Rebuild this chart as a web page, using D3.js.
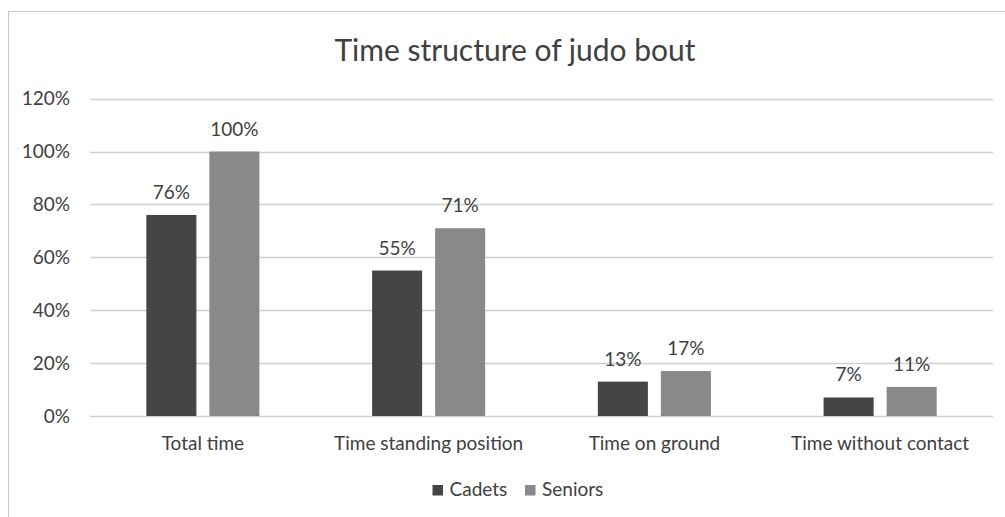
<!DOCTYPE html>
<html>
<head>
<meta charset="utf-8">
<script src="https://cdn.jsdelivr.net/npm/d3@7"></script>
<style>
  html, body { margin: 0; padding: 0; background: #fff; }
  svg { display: block; }
  text { font-family: Lato, "Open Sans", sans-serif; fill: #404040; }
</style>
</head>
<body>
<svg id="chart" width="1005" height="517"></svg>
<script>
const categories = ["Total time", "Time standing position", "Time on ground", "Time without contact"];
const seriesNames = ["Cadets", "Seniors"];
const cadets = [0.76, 0.55, 0.13, 0.07];
const seniors = [1.00, 0.71, 0.17, 0.11];
const yTicks = [0, 0.2, 0.4, 0.6, 0.8, 1.0, 1.2];
const colors = ["#454545", "#898989"];

const svg = d3.select("#chart");
const W = 1005, H = 517;
const FONT = "19px";

// chart frame
svg.append("rect")
  .attr("x", 8.5).attr("y", 11.5)
  .attr("width", W + 10).attr("height", H + 10)
  .attr("fill", "#fff").attr("stroke", "#c8c8c8").attr("stroke-width", 1);

const plot = { left: 90, right: 993, top: 98.6, bottom: 416 };

const x = d3.scaleBand().domain(categories).range([plot.left, plot.right]).paddingInner(0).paddingOuter(0);
const x1 = d3.scaleBand().domain(seriesNames).range([0, x.bandwidth()]).paddingInner(0.206).paddingOuter(0.894);
const y = d3.scaleLinear().domain([0, 1.2]).range([plot.bottom, plot.top]);

// title
svg.append("text")
  .attr("x", 515).attr("y", 61)
  .attr("text-anchor", "middle")
  .style("font-size", "30px")
  .text("Time structure of judo bout");

// gridlines
svg.append("g").selectAll("line").data(yTicks).join("line")
  .attr("x1", plot.left).attr("x2", plot.right)
  .attr("y1", d => Math.round(y(d)) + 0.5).attr("y2", d => Math.round(y(d)) + 0.5)
  .attr("stroke", "#d0d0d0").attr("stroke-width", 1.3);

// y axis labels
const yAxis = d3.axisLeft(y).tickValues(yTicks).tickFormat(d3.format(".0%")).tickSize(0).tickPadding(20);
const gy = svg.append("g").attr("transform", `translate(${plot.left},0)`).call(yAxis);
gy.select(".domain").remove();
gy.selectAll("text").style("font-size", FONT).style("font-family", "Lato, sans-serif").attr("fill", "#404040");

// x axis labels
const xAxis = d3.axisBottom(x).tickSize(0).tickPadding(21);
const gx = svg.append("g").attr("transform", `translate(0,${plot.bottom})`).call(xAxis);
gx.select(".domain").remove();
gx.selectAll("text").style("font-size", FONT).style("font-family", "Lato, sans-serif").attr("fill", "#404040");

// bars
const rows = categories.map((c, i) => ({ cat: c, vals: [cadets[i], seniors[i]] }));
const groups = svg.append("g").selectAll("g").data(rows).join("g")
  .attr("transform", d => `translate(${x(d.cat)},0)`);

groups.selectAll("rect")
  .data(d => d.vals.map((v, j) => ({ name: seriesNames[j], v, j })))
  .join("rect")
  .attr("x", d => x1(d.name))
  .attr("width", x1.bandwidth())
  .attr("y", d => y(d.v))
  .attr("height", d => y(0) - y(d.v))
  .attr("fill", d => colors[d.j]);

groups.selectAll("text.val")
  .data(d => d.vals.map((v, j) => ({ name: seriesNames[j], v, j })))
  .join("text")
  .attr("class", "val")
  .attr("x", d => x1(d.name) + x1.bandwidth() / 2)
  .attr("y", d => y(d.v) - 16)
  .attr("text-anchor", "middle")
  .style("font-size", FONT)
  .text(d => d3.format(".0%")(d.v));

// legend
const legend = svg.append("g");
const legendItems = [{ name: "Cadets", x: 432.5 }, { name: "Seniors", x: 525 }];
legendItems.forEach((it, j) => {
  legend.append("rect").attr("x", it.x).attr("y", 485).attr("width", 10.5).attr("height", 10.5).attr("fill", colors[j]);
  legend.append("text").attr("x", it.x + 17).attr("y", 496).style("font-size", FONT).text(it.name);
});
</script>
</body>
</html>
